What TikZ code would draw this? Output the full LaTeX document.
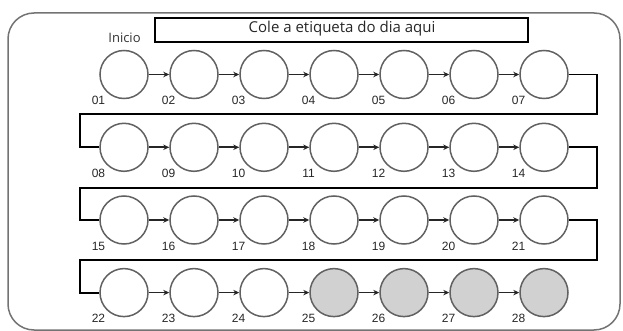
\documentclass[tikz,border=0pt]{standalone}
\usepackage{fontspec}
\setmainfont{Open Sans}
\newfontfamily\numfont{Liberation Sans}
\usetikzlibrary{arrows.meta}
\begin{document}
\begin{tikzpicture}[x=1pt,y=-1pt,
  dia/.style={circle,draw=black!62,line width=1.5pt,minimum size=48pt,inner sep=0pt},
  past/.style={dia,fill=black!18},
  nxt/.style={-{Stealth[length=6pt,width=5.5pt]},line width=1.6pt,draw=black!85},
  link/.style={line width=1.9pt,draw=black},
  numlbl/.style={font=\numfont\fontsize{12}{14}\selectfont,text=black!85,inner sep=0pt}]
\useasboundingbox (0,0) rectangle (623,331);
\draw[black!55,line width=1.5pt,rounded corners=26pt] (8,13) rectangle (620,330);
\node[draw=black,line width=2pt,minimum width=373pt,minimum height=24pt,inner sep=0pt] (title) at (341.5,30.5) {};
\node[font=\fontsize{15}{17}\selectfont,text=black!85,inner sep=0pt] (titletext) at (342,29) {Cole a etiqueta do dia aqui};
\node[font=\fontsize{13}{15}\selectfont,text=black!80,inner sep=0pt] (inicio) at (124.5,38) {Inicio};
\foreach \r/\y in {0/74.5,1/147.3,2/220,3/292.6}{
  \foreach \c in {1,...,7}{
    \pgfmathtruncatemacro{\n}{\r*7+\c}
    \pgfmathsetmacro{\x}{124+(\c-1)*70}
    \ifnum\n>24
      \node[past] (d\n) at (\x,\y) {};
    \else
      \node[dia] (d\n) at (\x,\y) {};
    \fi
    \node[numlbl] (l\n) at (\x-25.5,\y+26) {\ifnum\n<10 0\fi\n};
  }
}
\foreach \a in {1,...,27}{
  \pgfmathtruncatemacro{\b}{\a+1}
  \pgfmathtruncatemacro{\m}{mod(\a,7)}
  \ifnum\m=0\else
    \draw[nxt] (d\a.east) -- (d\b.west);
  \fi
}
\coordinate (r1) at (597,74.5);
\coordinate (r1b) at (597,114);
\coordinate (l1b) at (80,114);
\coordinate (l1) at (80,147.3);
\draw[link] (d7.east) -- (r1) -- (r1b) -- (l1b) -- (l1) -- (d8.west);
\coordinate (r2) at (597,147.3);
\coordinate (r2b) at (597,188);
\coordinate (l2b) at (80,188);
\coordinate (l2) at (80,220);
\draw[link] (d14.east) -- (r2) -- (r2b) -- (l2b) -- (l2) -- (d15.west);
\coordinate (r3) at (597,220);
\coordinate (r3b) at (597,260);
\coordinate (l3b) at (80,260);
\coordinate (l3) at (80,292.6);
\draw[link] (d21.east) -- (r3) -- (r3b) -- (l3b) -- (l3) -- (d22.west);
\end{tikzpicture}
\end{document}
